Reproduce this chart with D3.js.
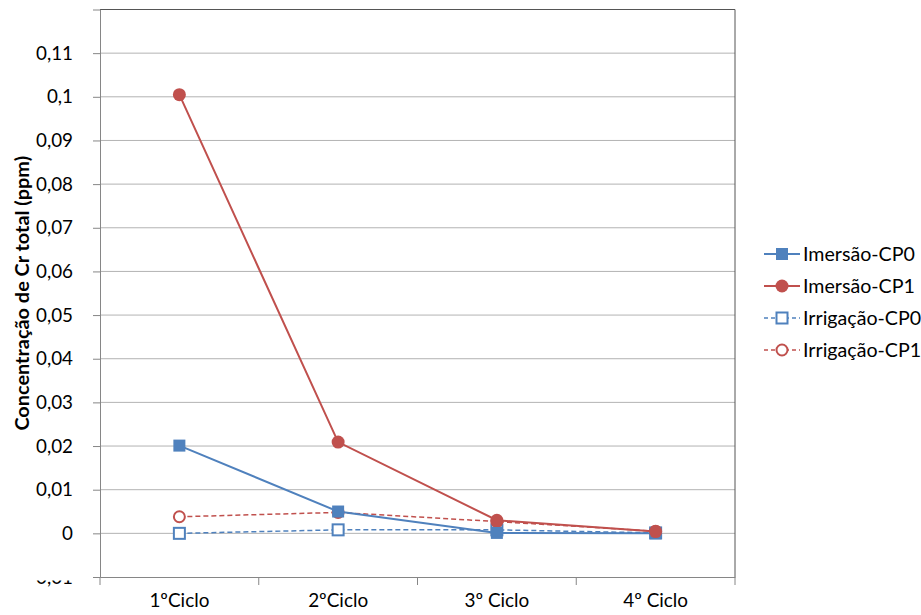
<!DOCTYPE html>
<html>
<head>
<meta charset="utf-8">
<script src="https://cdn.jsdelivr.net/npm/d3@7"></script>
<style>
  body { margin: 0; background: #fff; }
  text { font-family: Lato, "Open Sans", sans-serif; fill: #000; }
</style>
</head>
<body>
<svg id="chart" width="921" height="615"></svg>
<script>
const categories = ["1ºCiclo", "2ºCiclo", "3º Ciclo", "4º Ciclo"];
const yTicks = [-0.01, 0, 0.01, 0.02, 0.03, 0.04, 0.05, 0.06, 0.07, 0.08, 0.09, 0.1, 0.11, 0.12];
const imersaoCP0 = [0.0201, 0.005, 0.0001, 0.0];
const imersaoCP1 = [0.1005, 0.0209, 0.003, 0.0004];
const irrigacaoCP0 = [0.0, 0.0008, 0.0008, 0.0001];
const irrigacaoCP1 = [0.0038, 0.0048, 0.0027, 0.0005];

const BLUE = "#4f81bd";
const RED = "#c0504d";

const series = [
  { name: "Imersão-CP0", values: imersaoCP0, color: BLUE, shape: "square", filled: true, dashed: false },
  { name: "Imersão-CP1", values: imersaoCP1, color: RED, shape: "circle", filled: true, dashed: false },
  { name: "Irrigação-CP0", values: irrigacaoCP0, color: BLUE, shape: "square", filled: false, dashed: true },
  { name: "Irrigação-CP1", values: irrigacaoCP1, color: RED, shape: "circle", filled: false, dashed: true }
];

const plot = { left: 100, right: 735, top: 9.5, bottom: 577 };
const svg = d3.select("#chart");

// Lato stands in for Calibri, so size the text to the widths seen in the reference
function fitSize(sel, sample, target) {
  const probe = svg.append("text").style("font-size", "20px").text(sample);
  if (sel.style) {}
  const w = probe.node().getComputedTextLength();
  probe.remove();
  return 20 * target / w;
}

const x = d3.scaleBand()
  .domain(categories)
  .range([plot.left, plot.right]);

const y = d3.scaleLinear()
  .domain([-0.01, 0.12])
  .range([plot.bottom, plot.top]);

const fmt = d => String(+d.toFixed(2)).replace(".", ",");

// gridlines
svg.append("g")
  .selectAll("line")
  .data(yTicks.filter(d => d > -0.01 && d < 0.12))
  .join("line")
  .attr("x1", plot.left)
  .attr("x2", plot.right)
  .attr("y1", d => y(d))
  .attr("y2", d => y(d))
  .attr("stroke", "#b3b3b3")
  .attr("stroke-width", 1);

// plot border top/right
svg.append("path")
  .attr("d", `M${plot.left},${y(0.12)}H${plot.right}V${plot.bottom}`)
  .attr("fill", "none")
  .attr("stroke", "#555")
  .attr("stroke-width", 1);

const tickSize = fitSize(svg, "0,11", 37);
const catSize = fitSize(svg, "1ºCiclo", 60);
const legSize = fitSize(svg, "Imersão-CP0", 112);

// y axis
svg.append("clipPath").attr("id", "cutLabel")
  .append("rect").attr("x", -100).attr("y", 3).attr("width", 100).attr("height", 30);

const yAxis = svg.append("g")
  .attr("transform", `translate(${plot.left},0)`)
  .call(d3.axisLeft(y).tickValues(yTicks.filter(d => d < 0.12)).tickSize(7).tickPadding(20).tickFormat(fmt));
yAxis.select(".domain").attr("stroke", "#868686");
yAxis.selectAll(".tick line").attr("stroke", "#868686");
yAxis.selectAll(".tick text")
  .style("font-size", tickSize + "px")
  .style("font-family", "Lato, sans-serif")
  .attr("fill", "#000");
// the -0,01 label is cut off in the original: show only its lower part
yAxis.selectAll(".tick").filter(d => d === -0.01).select("text").attr("clip-path", "url(#cutLabel)");

// x axis
const xAxis = svg.append("g")
  .attr("transform", `translate(0,${plot.bottom})`)
  .call(d3.axisBottom(x).tickSize(0).tickPadding(0));
xAxis.select(".domain").attr("stroke", "#868686");
xAxis.selectAll(".tick text")
  .attr("y", 30)
  .attr("dy", null)
  .style("font-size", catSize + "px")
  .style("font-family", "Lato, sans-serif")
  .attr("fill", "#000");

// x tick marks at category boundaries
const bounds = categories.map(c => x(c)).concat([x(categories[categories.length - 1]) + x.bandwidth()]);
svg.append("g")
  .selectAll("line")
  .data(bounds)
  .join("line")
  .attr("x1", d => d)
  .attr("x2", d => d)
  .attr("y1", plot.bottom)
  .attr("y2", plot.bottom + 8)
  .attr("stroke", "#868686");

// y axis title
const titleText = "Concentração de Cr total (ppm)";
const tprobe = svg.append("text").style("font-size", "20px").style("font-weight", "bold").text(titleText);
const titleSize = 20 * 275 / tprobe.node().getComputedTextLength();
tprobe.remove();
svg.append("text")
  .attr("transform", `translate(29,${(plot.top + plot.bottom) / 2}) rotate(-90)`)
  .attr("text-anchor", "middle")
  .style("font-size", titleSize + "px")
  .style("font-weight", "bold")
  .text(titleText);

const cx = c => x(c) + x.bandwidth() / 2;

function drawMarker(sel, s, px, py) {
  if (s.shape === "square") {
    const size = s.filled ? 12 : 11;
    sel.append("rect")
      .attr("x", px - size / 2)
      .attr("y", py - size / 2)
      .attr("width", size)
      .attr("height", size)
      .attr("fill", s.filled ? s.color : "#fff")
      .attr("stroke", s.color)
      .attr("stroke-width", s.filled ? 0 : 2);
  } else {
    sel.append("circle")
      .attr("cx", px)
      .attr("cy", py)
      .attr("r", s.filled ? 6.5 : 5.5)
      .attr("fill", s.filled ? s.color : "#fff")
      .attr("stroke", s.color)
      .attr("stroke-width", s.filled ? 0 : 2);
  }
}

const line = d3.line()
  .x((d, i) => cx(categories[i]))
  .y(d => y(d));

// dashed series first, solid series on top
const order = [2, 3, 0, 1];
order.forEach(k => {
  const s = series[k];
  const g = svg.append("g");
  g.append("path")
    .datum(s.values)
    .attr("fill", "none")
    .attr("stroke", s.color)
    .attr("stroke-width", s.dashed ? 1.5 : 2)
    .attr("stroke-dasharray", s.dashed ? "5,3" : null)
    .attr("d", line);
  s.values.forEach((v, i) => drawMarker(g, s, cx(categories[i]), y(v)));
});

// legend
const legend = svg.append("g");
series.forEach((s, i) => {
  const ly = 254 + i * 32;
  const g = legend.append("g");
  g.append("line")
    .attr("x1", 764)
    .attr("x2", 800)
    .attr("y1", ly)
    .attr("y2", ly)
    .attr("stroke", s.color)
    .attr("stroke-width", s.dashed ? 1.5 : 2)
    .attr("stroke-dasharray", s.dashed ? "4,3" : null);
  drawMarker(g, s, 782, ly);
  g.append("text")
    .attr("x", 803)
    .attr("y", ly)
    .attr("dy", "0.35em")
    .style("font-size", legSize + "px")
    .text(s.name);
});
</script>
</body>
</html>
